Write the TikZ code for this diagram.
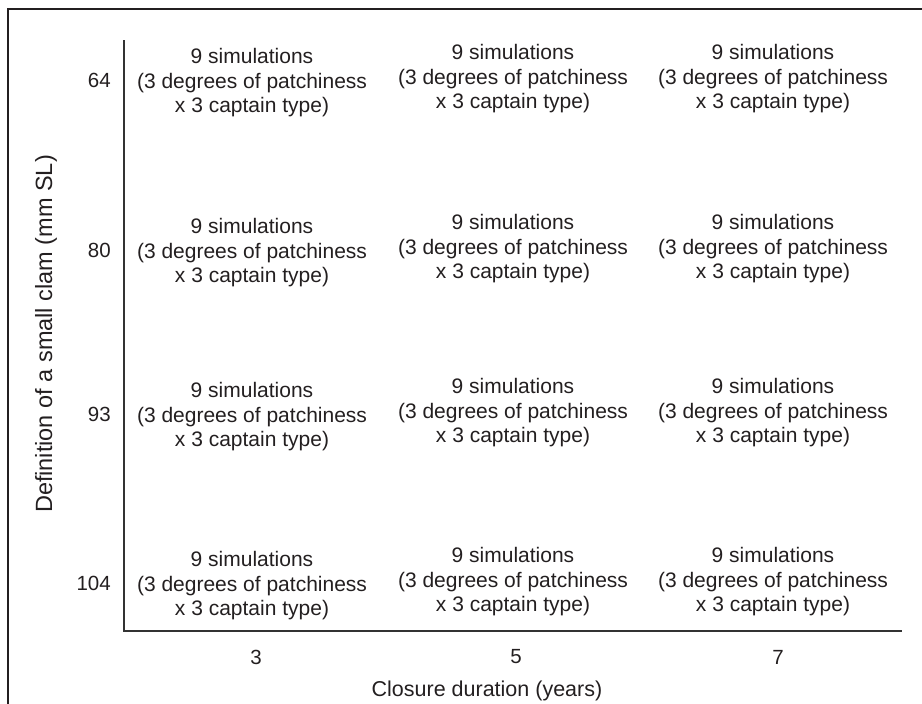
\documentclass[tikz,border=0pt]{standalone}
\usepackage{fontspec}
\setmainfont{Liberation Sans}
\definecolor{ink}{HTML}{231F20}
\tikzset{
  cell/.style={align=center, inner sep=0pt, font=\fontsize{21pt}{24.5pt}\selectfont, text=ink},
  rowlab/.style={anchor=east, inner sep=0pt, font=\fontsize{20.5pt}{24pt}\selectfont, text=ink},
  collab/.style={inner sep=0pt, font=\fontsize{20.5pt}{24pt}\selectfont, text=ink},
  axtitle/.style={inner sep=0pt, font=\fontsize{21.5pt}{24pt}\selectfont, text=ink},
  ytitle/.style={inner sep=0pt, rotate=90, font=\fontsize{23.5pt}{26pt}\selectfont, text=ink},
  frameline/.style={line width=2.2pt, draw=ink},
  axisline/.style={line width=1.2pt, draw=black!80}
}
\begin{document}
\begin{tikzpicture}[x=1pt,y=-1pt]
\useasboundingbox (0,0) rectangle (922,704);
% frame
\coordinate (fbl) at (8,705);
\coordinate (ftl) at (8,9);
\coordinate (ftr) at (923,9);
\draw[frameline] (fbl) -- (ftl) -- (ftr);
% axes
\coordinate (atop) at (124,40);
\coordinate (aorig) at (124,631);
\coordinate (aright) at (902,631);
\draw[axisline] (atop) -- (aorig) -- (aright);
% cells
\def\celltext{9 simulations\\(3 degrees of patchiness\\x 3 captain type)}
\foreach \r/\y in {1/83,2/253,3/417,4/586}{
  \node[cell] (c\r a) at (252,\y) {\celltext};
  \node[cell] (c\r b) at (513,\y-4) {\celltext};
  \node[cell] (c\r c) at (773,\y-4) {\celltext};
}
% row labels
\node[rowlab] (r64) at (111,80) {64};
\node[rowlab] (r80) at (111,250) {80};
\node[rowlab] (r93) at (111,414) {93};
\node[rowlab] (r104) at (111,583) {104};
% column labels
\node[collab] (k3) at (256,657) {3};
\node[collab] (k5) at (516,657) {5};
\node[collab] (k7) at (778,657) {7};
% axis titles
\node[axtitle] (xt) at (487,691) {Closure duration (years)};
\node[ytitle] (yt) at (46,334) {Definition of a small clam (mm SL)};
\end{tikzpicture}
\end{document}
